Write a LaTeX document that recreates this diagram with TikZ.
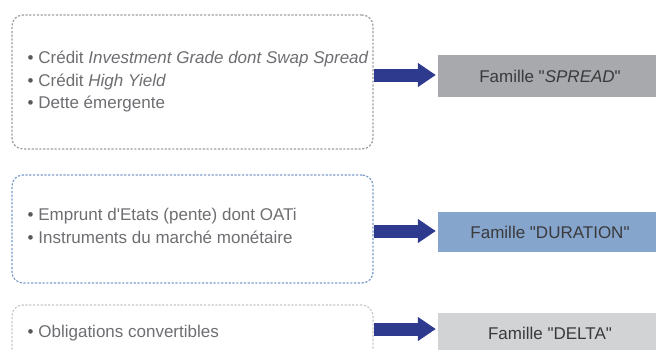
\documentclass[tikz,border=0pt]{standalone}
\usepackage{fontspec}
\setmainfont{Liberation Sans}[Ligatures=TeXOff]
\usetikzlibrary{arrows.meta}
\definecolor{listgray}{HTML}{6D6E71}
\definecolor{bulletgray}{HTML}{58595B}
\definecolor{famtext}{HTML}{3A3A3C}
\definecolor{dashgray}{HTML}{9D9FA2}
\definecolor{dashblue}{HTML}{7B9CCB}
\definecolor{dashlight}{HTML}{C7C8CA}
\definecolor{famgray}{HTML}{A7A9AC}
\definecolor{famblue}{HTML}{85A5CC}
\definecolor{famlight}{HTML}{D1D3D4}
\definecolor{arrowblue}{HTML}{2E3A8D}
\newcommand{\blt}{{\color{bulletgray}\textbullet}\ }
\tikzset{
  listbox/.style={rectangle, rounded corners=11pt, line width=1.2pt,
    dash pattern=on 2.2pt off 1.6pt, minimum width=361pt, inner sep=0pt},
  listtext/.style={anchor=west, align=left, text=listgray, inner sep=0pt,
    font=\fontsize{17}{22.5}\selectfont},
  fambox/.style={rectangle, minimum width=224pt, inner sep=0pt, text=famtext,
    font=\fontsize{17}{20}\selectfont},
  bigarrow/.style={draw=arrowblue, line width=13pt,
    -{Triangle[length=18pt,width=23pt]}, shorten >=2pt}
}
\begin{document}
\begin{tikzpicture}[x=1pt,y=-1pt]
\useasboundingbox (0,0) rectangle (656,349);
\clip (0,0) rectangle (656,349);
% boxes
\node[listbox, draw=dashgray, minimum height=134pt] (b1) at (192.5,82) {};
\node[listbox, draw=dashblue, minimum height=108pt] (b2) at (192.5,229) {};
\node[listbox, draw=dashlight, minimum height=120pt] (b3) at (192.5,365) {};
% texts
\node[listtext] (t1) at (27.5,81.5) {\blt Crédit \textit{Investment Grade dont Swap Spread}\\
\blt Crédit \textit{High Yield}\\
\blt Dette émergente};
\node[listtext] (t2) at (27.5,226) {\blt Emprunt d'Etats (pente) dont OATi\\
\blt Instruments du marché monétaire};
\node[listtext] (t3) at (27.5,333) {\blt Obligations convertibles};
% family boxes
\node[fambox, fill=famgray, minimum height=42pt] (f1) at (550,76) {Famille "\textit{SPREAD}"};
\node[fambox, fill=famblue, minimum height=40pt] (f2) at (550,232) {Famille "DURATION"};
\node[fambox, fill=famlight, minimum height=40pt] (f3) at (550,333) {Famille "DELTA"};
% arrows
\coordinate (a1) at (0,75);
\coordinate (a2) at (0,231);
\coordinate (a3) at (0,329);
\draw[bigarrow] (b1.east |- a1) -- (f1.west |- a1);
\draw[bigarrow] (b2.east |- a2) -- (f2.west |- a2);
\draw[bigarrow] (b3.east |- a3) -- (f3.west |- a3);
\end{tikzpicture}
\end{document}
